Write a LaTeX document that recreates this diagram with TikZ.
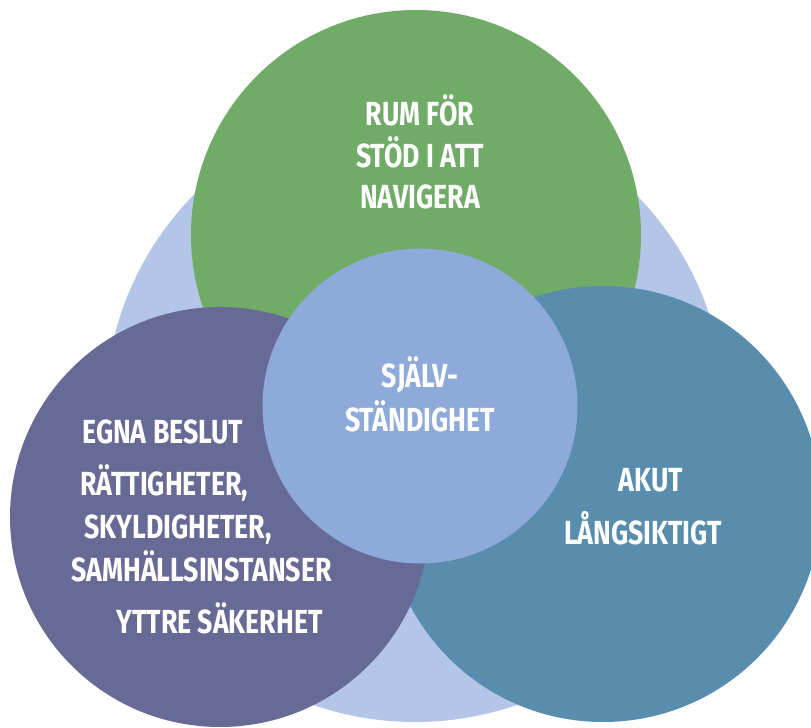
\documentclass[tikz,border=0pt]{standalone}
\usepackage{fontspec}
\setmainfont[FakeStretch=0.8]{Fira Sans}
\definecolor{backblue}{RGB}{179,198,231}
\definecolor{rumgreen}{RGB}{112,172,104}
\definecolor{eastblue}{RGB}{88,141,174}
\definecolor{westviolet}{RGB}{104,106,150}
\definecolor{midblue}{RGB}{142,170,219}
\begin{document}
\begin{tikzpicture}
  \def\f{0.02}

\tikzstyle{bubble}=[circle,inner sep=0pt,draw=none]
\tikzstyle{word}=[text=white,font=\bfseries\fontsize{19}{19}\selectfont,inner sep=0pt,text height=13pt,text depth=0pt]
\fill[white] (0,0) rectangle (811*\f,-728*\f);
\useasboundingbox (0,0) rectangle (811*\f,-728*\f);
\node[bubble][fill=backblue,minimum size=620*\f cm] (B0) at (415*\f,-412*\f) {};
\node[bubble][fill=rumgreen,minimum size=450*\f cm] (B1) at (416*\f,-235*\f) {};
\node[bubble][fill=eastblue,minimum size=436*\f cm] (B2) at (603*\f,-504*\f) {};
\node[bubble][fill=westviolet,minimum size=420*\f cm] (B3) at (220*\f,-517*\f) {};
\node[bubble][fill=midblue,minimum size=315*\f cm] (B4) at (420*\f,-406*\f) {};
\node[word][] (G1) at (420*\f,-114*\f) {RUM FÖR};
\node[word][] (G2) at (420*\f,-156*\f) {STÖD I ATT};
\node[word][] (G3) at (420*\f,-197*\f) {NAVIGERA};
\node[word][] (C1) at (420*\f,-376*\f) {SJÄLV-};
\node[word][] (C2) at (420*\f,-420*\f) {STÄNDIGHET};
\node[word][anchor=west] (W1) at (82*\f,-432*\f) {EGNA BESLUT};
\node[word][anchor=west] (W2) at (80*\f,-484*\f) {RÄTTIGHETER,};
\node[word][anchor=west] (W3) at (84*\f,-527*\f) {SKYLDIGHETER,};
\node[word][anchor=west] (W4) at (71*\f,-570*\f) {SAMHÄLLSINSTANSER};
\node[word][anchor=west] (W5) at (116*\f,-622*\f) {YTTRE SÄKERHET};
\node[word][] (E1) at (651*\f,-480*\f) {AKUT};
\node[word][] (E2) at (643*\f,-533*\f) {LÅNGSIKTIGT};
\end{tikzpicture}
\end{document}
